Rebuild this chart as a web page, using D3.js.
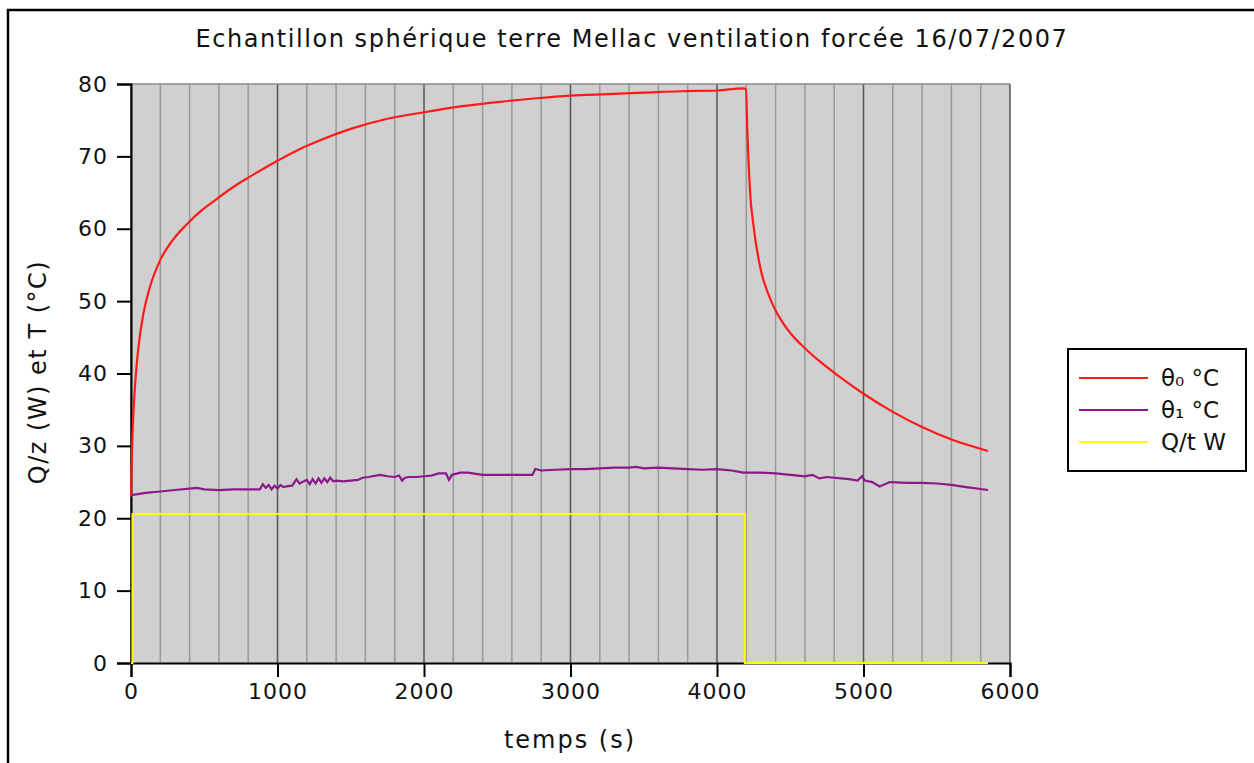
<html>
  <head>
    <script src='https://d3js.org/d3.v7.min.js'></script>
    <style>
      body { margin: 0; background: #fff; }
      text { font-family: 'DejaVu Sans', sans-serif; fill: #111; }
    </style>
  </head>
  <body>
    <svg width=1254 height=763></svg>
    <script>
      // temps (s) / valeurs
      const theta0_t = [0, 5, 15, 30, 50, 85, 130, 200, 280, 380, 480, 585, 700, 812, 1000, 1150, 1300, 1500, 1750, 2000, 2250, 2500, 2750, 3000, 3250, 3500, 3750, 4000, 4180, 4198, 4208, 4226, 4250, 4300, 4350, 4400, 4450, 4500, 4600, 4700, 4840, 5000, 5200, 5400, 5610, 5850];
      const theta0_v = [23, 28, 34, 39, 43.5, 48.3, 52, 55.7, 58.3, 60.6, 62.5, 64.1, 65.8, 67.2, 69.4, 71.0, 72.3, 73.8, 75.2, 76.1, 76.9, 77.5, 78.0, 78.4, 78.6, 78.8, 79.0, 79.1, 79.4, 79.3, 73, 65, 60.3, 54.2, 51.0, 48.7, 47.0, 45.6, 43.5, 41.7, 39.5, 37.2, 34.7, 32.6, 30.8, 29.3];

      const theta1_t = [0, 100, 200, 300, 400, 450, 500, 600, 700, 800, 880, 900, 920, 940, 960, 980, 1000, 1020, 1040, 1060, 1100, 1130, 1150, 1180, 1200, 1220, 1240, 1260, 1280, 1300, 1320, 1340, 1360, 1380, 1400, 1450, 1500, 1550, 1580, 1620, 1700, 1750, 1800, 1830, 1850, 1870, 1900, 1950, 2000, 2050, 2100, 2150, 2170, 2190, 2250, 2300, 2400, 2500, 2600, 2700, 2740, 2760, 2800, 2900, 3000, 3100, 3200, 3300, 3400, 3450, 3500, 3600, 3700, 3800, 3900, 4000, 4100, 4180, 4300, 4400, 4500, 4600, 4650, 4700, 4750, 4800, 4900, 4960, 4990, 5010, 5060, 5110, 5180, 5300, 5400, 5500, 5600, 5700, 5850];
      const theta1_v = [23.2, 23.5, 23.7, 23.9, 24.1, 24.2, 24.0, 23.9, 24.0, 24.0, 24.0, 24.7, 24.2, 24.6, 24.0, 24.5, 24.1, 24.6, 24.3, 24.4, 24.5, 25.4, 24.8, 25.1, 25.3, 24.7, 25.4, 24.8, 25.5, 24.9, 25.5, 25.0, 25.6, 25.1, 25.2, 25.1, 25.2, 25.3, 25.6, 25.7, 26.0, 25.8, 25.7, 25.9, 25.2, 25.6, 25.7, 25.7, 25.8, 25.9, 26.2, 26.2, 25.3, 26.0, 26.3, 26.3, 26.0, 26.0, 26.0, 26.0, 26.0, 26.8, 26.6, 26.7, 26.8, 26.8, 26.9, 27.0, 27.0, 27.1, 26.9, 27.0, 26.9, 26.8, 26.7, 26.8, 26.6, 26.3, 26.3, 26.2, 26.0, 25.8, 26.0, 25.5, 25.7, 25.6, 25.4, 25.2, 25.8, 25.2, 25.0, 24.4, 25.0, 24.9, 24.9, 24.8, 24.6, 24.3, 23.9];

      const q_t = [0, 10, 10, 4190, 4190, 5850];
      const q_v = [0, 0, 20.6, 20.6, 0, 0];

      const series_names = ['θ₀ °C', 'θ₁ °C', 'Q/t W'];
      const series_colors = ['#ff1a1a', '#8a1a8a', '#ffff00'];

      const svg = d3.select('svg');

      // cadre extérieur
      svg.append('rect').attr('x', 8).attr('y', 10).attr('width', 1300).attr('height', 800)
        .attr('fill', 'none').attr('stroke', '#000').attr('stroke-width', 2.5);

      const x = d3.scaleLinear().domain([0, 6000]).range([131, 1010]);
      const y = d3.scaleLinear().domain([0, 80]).range([663, 84]);

      svg.append('rect').attr('x', x(0)).attr('y', y(80))
        .attr('width', x(6000) - x(0)).attr('height', y(0) - y(80))
        .attr('fill', '#d0d0d0');

      // grille verticale
      svg.append('g').selectAll('line').data(x.ticks(30)).enter().append('line')
        .attr('x1', d => x(d)).attr('x2', d => x(d))
        .attr('y1', y(0)).attr('y2', y(80))
        .attr('stroke', d => d % 1000 == 0 ? '#555' : '#999')
        .attr('stroke-width', 1.5);

      svg.append('line').attr('x1', x(0)).attr('x2', x(6000)).attr('y1', y(80)).attr('y2', y(80))
        .attr('stroke', '#888').attr('stroke-width', 1.5);

      const xAxis = svg.append('g').attr('transform', `translate(0,${y(0)})`)
        .call(d3.axisBottom(x).tickValues([0, 1000, 2000, 3000, 4000, 5000, 6000]).tickSize(14).tickPadding(6).tickFormat(d3.format('d')));
      const yAxis = svg.append('g').attr('transform', `translate(${x(0)},0)`)
        .call(d3.axisLeft(y).ticks(8).tickSize(14).tickPadding(9));
      [xAxis, yAxis].forEach(function(a) {
        a.select('.domain').attr('stroke', '#000').attr('stroke-width', 2);
        a.selectAll('.tick line').attr('stroke', '#000').attr('stroke-width', 2);
        a.selectAll('.tick text').style('font-family', 'DejaVu Sans').style('font-size', '22px')
          .style('letter-spacing', '1px').attr('fill', '#111');
      });

      const line = d3.line().x(d => x(d[0])).y(d => y(d[1]));

      svg.append('path').datum(q_t.map((t, i) => [t, q_v[i]]))
        .attr('d', line).attr('fill', 'none').attr('stroke', series_colors[2]).attr('stroke-width', 2);
      svg.append('path').datum(theta1_t.map((t, i) => [t, theta1_v[i]]))
        .attr('d', line).attr('fill', 'none').attr('stroke', series_colors[1]).attr('stroke-width', 2.2);
      svg.append('path').datum(theta0_t.map((t, i) => [t, theta0_v[i]]))
        .attr('d', line.curve(d3.curveMonotoneX)).attr('fill', 'none').attr('stroke', series_colors[0]).attr('stroke-width', 2.2);

      // titres
      svg.append('text').attr('x', 632).attr('y', 47).attr('text-anchor', 'middle')
        .style('font-size', '24px').style('letter-spacing', '1.55px')
        .text('Echantillon sphérique terre Mellac ventilation forcée 16/07/2007');
      svg.append('text').attr('x', 570).attr('y', 748).attr('text-anchor', 'middle')
        .style('font-size', '24px').style('letter-spacing', '2px').text('temps (s)');
      svg.append('text').attr('transform', 'translate(46,372) rotate(-90)').attr('text-anchor', 'middle')
        .style('font-size', '24px').style('letter-spacing', '1.5px').text('Q/z (W) et T (°C)');

      // légende
      const leg = svg.append('g');
      leg.append('rect').attr('x', 1068).attr('y', 349).attr('width', 178).attr('height', 122)
        .attr('fill', '#fff').attr('stroke', '#000').attr('stroke-width', 2);
      series_names.forEach(function(name, i) {
        const ly = 378 + i * 32;
        leg.append('line').attr('x1', 1079).attr('x2', 1148).attr('y1', ly).attr('y2', ly)
          .attr('stroke', series_colors[i]).attr('stroke-width', 2);
        leg.append('text').attr('x', 1161).attr('y', ly + 8).style('font-size', '23px').text(name);
      });
    </script>
  </body>
</html>
